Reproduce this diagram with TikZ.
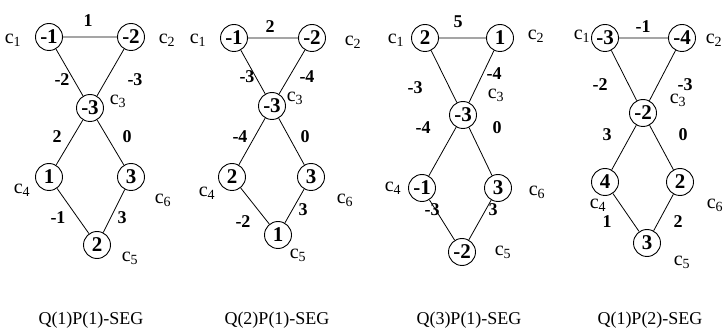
\documentclass[tikz,border=0pt]{standalone}
\usepackage{fontspec}
\setmainfont{Liberation Serif}
\begin{document}
\begin{tikzpicture}[x=1pt,y=-1pt,
  v/.style={circle,draw,line width=0.9pt,minimum size=27pt,inner sep=0pt,font=\fontsize{21}{21}\selectfont\bfseries},
  e/.style={line width=0.8pt},
  w/.style={inner sep=0pt,font=\fontsize{18}{18}\selectfont\bfseries},
  cl/.style={inner sep=0pt,font=\fontsize{20}{20}\selectfont},
  captxt/.style={inner sep=0pt,font=\fontsize{18}{18}\selectfont}]
\useasboundingbox[fill=white] (0,0) rectangle (726,331);
% ---------- graph 1
\node[v] (a1) at (49,37) {-1};
\node[v] (a2) at (131,37) {-2};
\node[v] (a3) at (90,108) {-3};
\node[v] (a4) at (49,177) {1};
\node[v] (a6) at (131,177) {3};
\node[v] (a5) at (97,245) {2};
\draw[e] (a1)--(a2) (a1)--(a3) (a2)--(a3) (a3)--(a4) (a3)--(a6) (a4)--(a5) (a6)--(a5);
\node[w] (a12) at (88,21) {1};
\node[w] (a13) at (62,80) {-2};
\node[w] (a23) at (135,80) {-3};
\node[w] (a34) at (57,137) {2};
\node[w] (a36) at (127,137) {0};
\node[w] (a45) at (58,218) {-1};
\node[w] (a65) at (122,218) {3};
\node[cl] (ac1) at (13,40) {c\textsubscript{1}};
\node[cl] (ac2) at (167,40) {c\textsubscript{2}};
\node[cl] (ac3) at (118,101) {c\textsubscript{3}};
\node[cl] (ac4) at (22,190) {c\textsubscript{4}};
\node[cl] (ac5) at (130,258) {c\textsubscript{5}};
\node[cl] (ac6) at (163,200) {c\textsubscript{6}};
\node[captxt] (acap) at (91,320) {Q(1)P(1)-SEG};
% ---------- graph 2
\node[v] (b1) at (234,38) {-1};
\node[v] (b2) at (312,38) {-2};
\node[v] (b3) at (272,106) {-3};
\node[v] (b4) at (232,177) {2};
\node[v] (b6) at (311,177) {3};
\node[v] (b5) at (278,235) {1};
\draw[e] (b1)--(b2) (b1)--(b3) (b2)--(b3) (b3)--(b4) (b3)--(b6) (b4)--(b5) (b6)--(b5);
\node[w] (b12) at (270,27) {2};
\node[w] (b13) at (247,77) {-3};
\node[w] (b23) at (307,77) {-4};
\node[w] (b34) at (240,137) {-4};
\node[w] (b36) at (305,137) {0};
\node[w] (b45) at (243,222) {-2};
\node[w] (b65) at (303,210) {3};
\node[cl] (bc1) at (198,40) {c\textsubscript{1}};
\node[cl] (bc2) at (353,42) {c\textsubscript{2}};
\node[cl] (bc3) at (295,98) {c\textsubscript{3}};
\node[cl] (bc4) at (207,193) {c\textsubscript{4}};
\node[cl] (bc5) at (298,255) {c\textsubscript{5}};
\node[cl] (bc6) at (345,200) {c\textsubscript{6}};
\node[captxt] (bcap) at (277,320) {Q(2)P(1)-SEG};
% ---------- graph 3
\node[v] (d1) at (425,38) {2};
\node[v] (d2) at (500,38) {1};
\node[v] (d3) at (463,115) {-3};
\node[v] (d4) at (422,188) {-1};
\node[v] (d6) at (498,188) {3};
\node[v] (d5) at (462,252) {-2};
\draw[e] (d1)--(d2) (d1)--(d3) (d2)--(d3) (d3)--(d4) (d3)--(d6) (d4)--(d5) (d6)--(d5);
\node[w] (d12) at (458,22) {5};
\node[w] (d13) at (415,88) {-3};
\node[w] (d23) at (494,74) {-4};
\node[w] (d34) at (423,128) {-4};
\node[w] (d36) at (497,128) {0};
\node[w] (d45) at (432,210) {-3};
\node[w] (d65) at (493,210) {3};
\node[cl] (dc1) at (396,40) {c\textsubscript{1}};
\node[cl] (dc2) at (536,36) {c\textsubscript{2}};
\node[cl] (dc3) at (496,95) {c\textsubscript{3}};
\node[cl] (dc4) at (393,188) {c\textsubscript{4}};
\node[cl] (dc5) at (503,252) {c\textsubscript{5}};
\node[cl] (dc6) at (537,192) {c\textsubscript{6}};
\node[captxt] (dcap) at (469,320) {Q(3)P(1)-SEG};
% ---------- graph 4
\node[v] (f1) at (605,38) {-3};
\node[v] (f2) at (682,38) {-4};
\node[v] (f3) at (643,113) {-2};
\node[v] (f4) at (605,182) {4};
\node[v] (f6) at (680,182) {2};
\node[v] (f5) at (647,243) {3};
\draw[e] (f1)--(f2) (f1)--(f3) (f2)--(f3) (f3)--(f4) (f3)--(f6) (f4)--(f5) (f6)--(f5);
\node[w] (f12) at (643,27) {-1};
\node[w] (f13) at (600,85) {-2};
\node[w] (f23) at (685,85) {-3};
\node[w] (f34) at (607,135) {3};
\node[w] (f36) at (683,135) {0};
\node[w] (f45) at (607,222) {1};
\node[w] (f65) at (678,222) {2};
\node[cl] (fc1) at (582,36) {c\textsubscript{1}};
\node[cl] (fc2) at (714,40) {c\textsubscript{2}};
\node[cl] (fc3) at (678,100) {c\textsubscript{3}};
\node[cl] (fc4) at (598,205) {c\textsubscript{4}};
\node[cl] (fc5) at (682,262) {c\textsubscript{5}};
\node[cl] (fc6) at (715,205) {c\textsubscript{6}};
\node[captxt] (fcap) at (650,320) {Q(1)P(2)-SEG};
\end{tikzpicture}
\end{document}
